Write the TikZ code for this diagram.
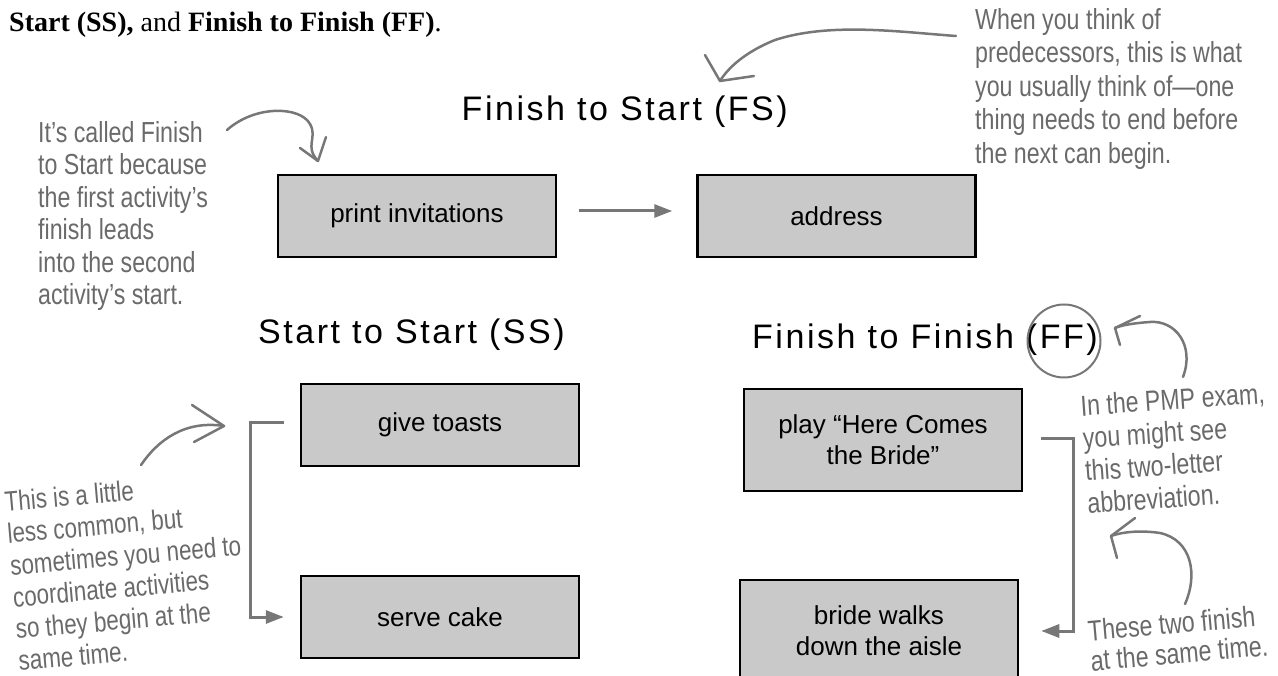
\documentclass[tikz,border=0pt]{standalone}
\usepackage{fontspec}
\setmainfont{Liberation Sans}
\newfontfamily\serifx{Liberation Serif}
\newfontfamily\titlefont[LetterSpace=7.5]{Liberation Sans}
\newfontfamily\handfont[FakeStretch=0.8]{Liberation Sans}
\usetikzlibrary{arrows.meta}
\definecolor{boxfill}{HTML}{C9C9C9}
\definecolor{penc}{HTML}{6A6A6A}
\definecolor{linec}{HTML}{777777}
\begin{document}
\begin{tikzpicture}[x=1pt,y=-1pt,
  actbox/.style={draw=black,line width=2.5pt,fill=boxfill,minimum width=278pt,minimum height=82pt,inner sep=0pt,font=\fontsize{26}{31}\selectfont,align=center},
  tallbox/.style={actbox,minimum height=102pt},
  ttl/.style={inner sep=0pt,font=\titlefont\fontsize{34}{38}\selectfont},
  hand/.style={inner sep=0pt,text=penc,align=left,font=\handfont\fontsize{29}{32.5}\selectfont},
  conn/.style={draw=linec,line width=3pt,-{Triangle[length=18pt,width=13pt]}},
  pen/.style={draw=linec,line width=2.5pt,line cap=round,line join=round}
]
\useasboundingbox (0,0) rectangle (1278,676);
\clip (0,0) rectangle (1278,676);

% intro line
\node[anchor=base west,inner sep=0pt,font=\serifx\fontsize{28}{32}\selectfont] (intro) at (9,32)
  {\textbf{Start (SS),} and \textbf{Finish to Finish (FF)}.};

% titles
\node[ttl,anchor=base east] (tfs) at (788,121) {Finish to Start (FS)};
\node[ttl,anchor=base west] (tss) at (258,344) {Start to Start (SS)};
\node[ttl,anchor=base west] (tff) at (752,349) {Finish to Finish (FF)};

% activity boxes
\node[actbox] (pi) at (417,216) {print invitations};
\node[actbox] (ad) at (836.5,216) {address};
\node[actbox] (gt) at (440,425) {give toasts};
\node[actbox] (sc) at (440,617) {serve cake};
\node[tallbox] (pl) at (883,440) {play “Here Comes\\the Bride”};
\node[tallbox] (bw) at (879,631) {bride walks\\down the aisle};

% connectors
\draw[conn] ([xshift=22pt,yshift=5pt]pi.east) -- ([xshift=-24pt,yshift=5pt]ad.west);
\draw[conn] ([xshift=-16pt,yshift=2pt]gt.west) -- ++(-33pt,0pt) |- ([xshift=-16pt]sc.west);
\draw[conn] ([xshift=18pt,yshift=2pt]pl.east) -- ++(32pt,0pt) |- ([xshift=22pt]bw.east);

% annotations
\node[hand,anchor=north west] (n1) at (38,121)
  {It’s called Finish\\to Start because\\the first activity’s\\finish leads\\into the second\\activity’s start.};
\node[hand,anchor=north west,font=\handfont\fontsize{29}{33.5}\selectfont] (n2) at (975,8)
  {When you think of\\predecessors, this is what\\you usually think of—one\\thing needs to end before\\the next can begin.};
\node[hand,rotate=4] (n3) at (1176,448)
  {In the PMP exam,\\you might see\\this two-letter\\abbreviation.};
\node[hand,rotate=5,font=\handfont\fontsize{29}{30}\selectfont] (n4) at (1178,638)
  {These two finish\\at the same time.};
\node[hand,rotate=5,font=\handfont\fontsize{28}{32}\selectfont] (n5) at (127,571)
  {This is a little\\less common, but\\sometimes you need to\\coordinate activities\\so they begin at the\\same time.};

% circle around (FF)
\node[circle,draw=linec,line width=2pt,minimum size=73pt,inner sep=0pt] (ring) at (1064,341) {};

% hand-drawn arrows
\coordinate (t1) at (318,161);
\draw[pen] (227,130) .. controls (255,105) and (300,106) .. (310,124) .. controls (318,138) and (304,146) .. (t1);
\draw[pen] (300,148) -- (t1) -- (326,137);

\coordinate (t2) at (720,81);
\draw[pen] (956,36) .. controls (900,32) and (830,22) .. (775,40) .. controls (745,52) and (728,68) .. (t2);
\draw[pen] (705,55) -- (t2) -- (754,76);

\coordinate (t3) at (1115,328);
\draw[pen] (1183,377) .. controls (1195,345) and (1175,320) .. (1150,322) .. controls (1135,323) and (1122,325) .. (t3);
\draw[pen] (1140,316) -- (t3) -- (1120,345);

\coordinate (t4) at (1111,536);
\draw[pen] (1185,604) .. controls (1198,575) and (1192,540) .. (1160,533) .. controls (1140,530) and (1122,532) .. (t4);
\draw[pen] (1135,518) -- (t4) -- (1117,558);

\coordinate (t5) at (224,426);
\draw[pen] (141,465) .. controls (158,440) and (185,420) .. (t5);
\draw[pen] (192,405) -- (t5) -- (194,442);
\end{tikzpicture}
\end{document}
